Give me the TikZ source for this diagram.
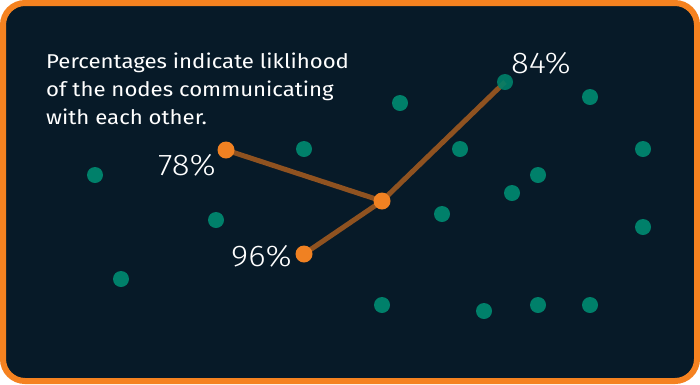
\documentclass[tikz,border=0pt]{standalone}
\usepackage{fontspec}
\setmainfont{Fira Sans}[FakeStretch=1.11]
\newfontfamily\lightfont{Fira Sans Light}[FakeStretch=1.1]
\usetikzlibrary{calc}
\definecolor{panel}{HTML}{071A28}
\definecolor{rim}{HTML}{F58220}
\definecolor{peer}{HTML}{00806A}
\definecolor{hot}{HTML}{F08122}
\definecolor{link}{HTML}{8F5220}
\tikzset{
  peer/.style={circle,fill=peer,inner sep=0pt,minimum size=16pt},
  hotpeer/.style={circle,fill=hot,inner sep=0pt,minimum size=17pt},
  pct/.style={text=white,font=\lightfont\fontsize{30}{30}\selectfont,inner sep=0pt},
  link/.style={draw=link,line width=5pt}
}
\begin{document}
\begin{tikzpicture}[x=1pt,y=-1pt]
				\useasboundingbox (0,0) rectangle (700,384);
				\fill[white] (0,0) rectangle (700,384);
				\draw[fill=panel,draw=rim,line width=6pt,rounded corners=22pt] (3,3) rectangle (697,381);
				
				\node[text=white,font=\fontsize{20}{28}\selectfont,align=left,anchor=north west,inner sep=0pt] (note) at (46,53)
				  {Percentages indicate liklihood\\of the nodes communicating\\with each other.};
				
				% idle nodes
				\node[peer] (p1) at (95,175) {};
				\node[peer] (p2) at (121,279) {};
				\node[peer] (p3) at (216,220) {};
				\node[peer] (p4) at (304,149) {};
				\node[peer] (p5) at (400,103) {};
				\node[peer] (p6) at (460,149) {};
				\node[peer] (p7) at (442,214) {};
				\node[peer] (p8) at (512,193) {};
				\node[peer] (p9) at (538,175) {};
				\node[peer] (p10) at (590,97) {};
				\node[peer] (p11) at (643,149) {};
				\node[peer] (p12) at (643,227) {};
				\node[peer] (p13) at (382,305) {};
				\node[peer] (p14) at (484,311) {};
				\node[peer] (p15) at (538,305) {};
				\node[peer] (p16) at (590,305) {};
				
				% talking nodes
				\coordinate (hub) at (382,201);
				\coordinate (a) at (226,150);
				\coordinate (b) at (304,254);
				\coordinate (c) at (505,82);
				\draw[link] (a) -- (hub);
				\draw[link] (b) -- (hub);
				\draw[link] (hub) -- (c);
				\node[peer,opacity=0.9] (far) at (c) {};
				\node[hotpeer] (h0) at (hub) {};
				\node[hotpeer] (h1) at (a) {};
				\node[hotpeer] (h2) at (b) {};
				
				\node[pct,anchor=east] (l1) at (216,165) {78\%};
				\node[pct,anchor=east] (l2) at (292,256) {96\%};
				\node[pct,anchor=west] (l3) at (511,63) {84\%};
			\end{tikzpicture}
\end{document}
